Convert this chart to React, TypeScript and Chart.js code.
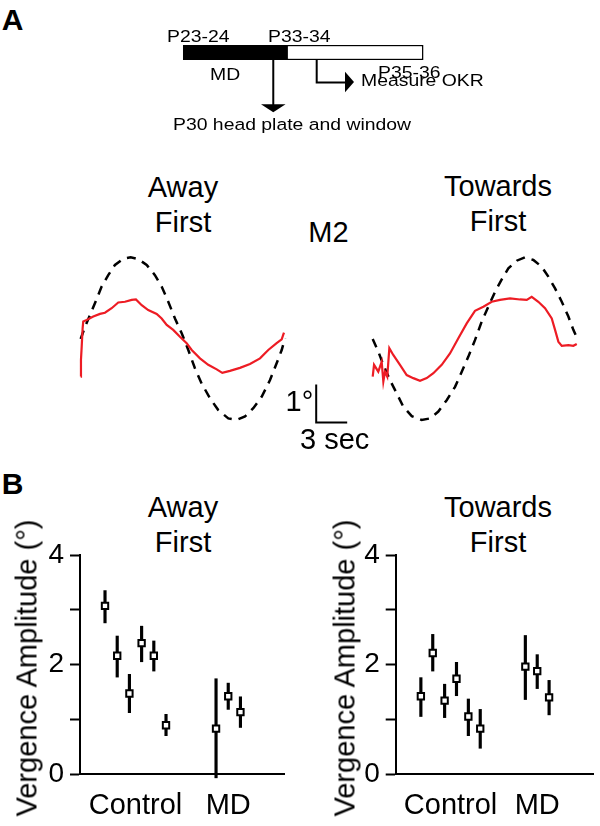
import React, { useEffect, useRef } from 'react';
import { Chart, registerables } from 'chart.js';

Chart.register(...registerables);

const FONT = "'Liberation Sans', Arial, Helvetica, sans-serif";
Chart.defaults.font.family = FONT;
Chart.defaults.color = '#000';

// ---------- Panel A: timeline (schematic units) ----------
const MD_SEGMENT: [number, number] = [0, 10];
const POST_SEGMENT: [number, number] = [10, 23.2];
const HEADPLATE_AT = 8.7;
const OKR_AT = 12.9;
const OKR_ARROW_END = 15.64;

// ---------- Panel A: traces (time in s, position in deg) ----------
const AWAY_STIM_T = [0, 0.42, 0.9, 1.38, 2.03, 2.67, 3.32, 4.12, 4.84, 5.58, 6.39, 7.19, 7.84, 8.48, 9.13, 9.78, 10.42, 11.06, 11.71, 12.52, 13.32, 14.29, 15.1, 15.91, 16.71, 17.52, 18.33, 18.97, 19.46, 19.78];
const AWAY_STIM_DEG = [0, 0.32, 0.63, 0.94, 1.38, 1.68, 1.95, 2.11, 2.15, 2.1, 1.95, 1.68, 1.38, 0.98, 0.54, 0.15, -0.29, -0.77, -1.17, -1.56, -1.87, -2.09, -2.13, -2.04, -1.82, -1.52, -1.08, -0.64, -0.29, 0.02];
const AWAY_RESP_T = [0, 0.03, 0.1, 0.19, 0.25, 0.58, 1.22, 1.87, 2.35, 3.0, 3.64, 4.29, 4.94, 5.35, 5.91, 6.54, 7.36, 7.84, 8.33, 8.96, 9.61, 10.26, 10.75, 11.55, 12.35, 13.17, 13.71, 14.45, 15.42, 16.39, 17.36, 18.16, 18.97, 19.46, 19.68];
const AWAY_RESP_DEG = [-0.99, -0.55, -0.2, 0.28, 0.46, 0.5, 0.59, 0.66, 0.69, 0.81, 0.96, 0.98, 1.03, 1.04, 0.89, 0.76, 0.66, 0.54, 0.37, 0.24, 0.06, -0.11, -0.29, -0.51, -0.68, -0.8, -0.89, -0.84, -0.76, -0.66, -0.51, -0.29, -0.11, -0.01, 0.17];
const TOW_STIM_T = [0, 0.54, 1.03, 1.67, 2.32, 2.96, 3.78, 4.74, 5.55, 6.35, 7.16, 7.97, 8.62, 9.25, 9.9, 10.55, 11.19, 11.84, 12.49, 13.13, 13.94, 14.74, 15.55, 16.36, 17.0, 17.65, 18.3, 18.94, 19.42, 19.75];
const TOW_STIM_DEG = [0, -0.33, -0.68, -1.08, -1.43, -1.78, -2.03, -2.13, -2.09, -1.91, -1.61, -1.26, -0.86, -0.47, -0.03, 0.46, 0.85, 1.24, 1.57, 1.86, 2.06, 2.15, 2.08, 1.9, 1.64, 1.33, 0.98, 0.59, 0.24, 0.04];
const TOW_RESP_T = [0, 0.13, 0.54, 0.87, 1.03, 1.19, 1.41, 1.61, 1.99, 2.64, 3.29, 3.93, 4.58, 5.23, 5.87, 6.68, 7.48, 8.29, 9.1, 9.9, 10.71, 11.52, 12.32, 13.29, 14.26, 14.91, 15.39, 16.03, 16.68, 17.33, 17.65, 17.97, 18.3, 18.94, 19.42, 19.75];
const TOW_RESP_DEG = [-0.99, -0.68, -0.86, -0.6, -1.12, -0.86, -0.99, -0.24, -0.42, -0.68, -0.95, -1.03, -1.1, -1.03, -0.9, -0.68, -0.38, 0.02, 0.41, 0.74, 0.85, 0.98, 1.03, 1.07, 1.04, 1.03, 1.11, 0.98, 0.81, 0.54, 0.24, -0.07, -0.18, -0.16, -0.18, -0.13];
const SCALE_BAR_T0 = 22.8;
const SCALE_BAR_DEG0 = -2.2;
const SCALE_BAR_DEG = 1;
const SCALE_BAR_SEC = 3;

// ---------- Panel B ----------
const GROUPS = ['Control', 'MD'];
const Y_LABELED_TICKS = [0, 2, 4];
const AWAY_X = [1, 2, 3, 4, 5, 6, 10.1, 11.1, 12.1];
const AWAY_GROUP = [0, 0, 0, 0, 0, 0, 1, 1, 1];
const AWAY_MEAN = [3.07, 2.16, 1.47, 2.39, 2.16, 0.89, 0.83, 1.42, 1.13];
const AWAY_LO = [2.76, 1.77, 1.12, 2.05, 1.88, 0.7, -0.07, 1.18, 0.85];
const AWAY_HI = [3.35, 2.52, 1.82, 2.7, 2.43, 1.09, 1.74, 1.66, 1.41];
const TOW_X = [1, 2, 3, 4, 5, 6, 9.8, 10.8, 11.8];
const TOW_GROUP = [0, 0, 0, 0, 0, 0, 1, 1, 1];
const TOW_MEAN = [1.42, 2.21, 1.34, 1.74, 1.05, 0.83, 1.96, 1.88, 1.4];
const TOW_LO = [1.05, 1.88, 1.03, 1.43, 0.7, 0.47, 1.36, 1.56, 1.08];
const TOW_HI = [1.76, 2.55, 1.64, 2.04, 1.37, 1.18, 2.53, 2.18, 1.71];

const pts = (t: number[], v: number[]) => t.map((x, i) => ({ x, y: v[i] }));

const baseOpts = {
  responsive: false,
  animation: false as const,
  devicePixelRatio: 1,
  events: [] as any[],
  plugins: { legend: { display: false }, tooltip: { enabled: false } },
};

function ChartCanvas({ left, top, width, height, make }: any) {
  const ref = useRef<HTMLCanvasElement>(null);
  useEffect(() => {
    const chart = new Chart(ref.current as HTMLCanvasElement, make());
    return () => chart.destroy();
  }, []);
  return (
    <canvas
      ref={ref}
      width={width}
      height={height}
      style={{ position: 'absolute', left, top, width, height }}
    />
  );
}

function Txt({ x, capTop, size = 29, align = 'left', bold = false, sx = 1, children }: any) {
  const top = capTop - 0.1305 * size;
  let transform = align === 'center' ? 'translateX(-50%)' : align === 'right' ? 'translateX(-100%)' : '';
  if (sx !== 1) transform += ` scaleX(${sx})`;
  return (
    <div
      style={{
        position: 'absolute',
        left: x,
        top,
        fontSize: size,
        lineHeight: `${size}px`,
        fontWeight: bold ? 700 : 400,
        whiteSpace: 'nowrap',
        transform,
        transformOrigin: 'left top',
      }}
    >
      {children}
    </div>
  );
}

const arrowPlugin = {
  id: 'timelineArrows',
  afterDatasetsDraw(chart: any) {
    const { ctx } = chart;
    const xs = chart.scales.x;
    const yb = chart.chartArea.bottom;
    ctx.save();
    ctx.strokeStyle = '#000';
    ctx.fillStyle = '#000';
    ctx.lineWidth = 2;
    const hx = xs.getPixelForValue(HEADPLATE_AT);
    ctx.beginPath();
    ctx.moveTo(hx, yb);
    ctx.lineTo(hx, yb + 45);
    ctx.stroke();
    ctx.beginPath();
    ctx.moveTo(hx - 12.3, yb + 44.3);
    ctx.lineTo(hx + 12.3, yb + 44.3);
    ctx.lineTo(hx, yb + 52.3);
    ctx.closePath();
    ctx.fill();
    const ox = xs.getPixelForValue(OKR_AT);
    const ex = xs.getPixelForValue(OKR_ARROW_END);
    ctx.beginPath();
    ctx.moveTo(ox, yb);
    ctx.lineTo(ox, yb + 22.5);
    ctx.lineTo(ex + 1, yb + 22.5);
    ctx.stroke();
    ctx.beginPath();
    ctx.moveTo(ex, yb + 11.7);
    ctx.lineTo(ex, yb + 32.3);
    ctx.lineTo(ex + 9, yb + 22);
    ctx.closePath();
    ctx.fill();
    ctx.restore();
  },
};

const makeTimeline = () => ({
  type: 'bar',
  data: {
    labels: ['timeline'],
    datasets: [
      { data: [MD_SEGMENT], backgroundColor: '#000', borderColor: '#000', borderWidth: 0, barThickness: 15, grouped: false, borderSkipped: false },
      { data: [POST_SEGMENT], backgroundColor: '#fff', borderColor: '#000', borderWidth: 1.5, barThickness: 15, grouped: false, borderSkipped: false },
    ],
  },
  options: {
    ...baseOpts,
    indexAxis: 'y',
    layout: { padding: { top: 45, bottom: 80, left: 0, right: 0 } },
    scales: {
      x: { type: 'linear', display: false, min: -17.73, max: 40.3 },
      y: { display: false },
    },
  },
  plugins: [arrowPlugin],
});

const makeTrace = (stimT: number[], stimD: number[], respT: number[], respD: number[], xmin: number, xmax: number, withBar: boolean) => () => {
  const datasets: any[] = [
    { data: pts(respT, respD), borderColor: '#ed1c24', borderWidth: 2.2, pointRadius: 0, tension: 0 },
    { data: pts(stimT, stimD), borderColor: '#000', borderWidth: 2.5, borderDash: [9, 7], pointRadius: 0, tension: 0 },
  ];
  if (withBar) {
    datasets.push({
      data: [
        { x: SCALE_BAR_T0, y: SCALE_BAR_DEG0 + SCALE_BAR_DEG },
        { x: SCALE_BAR_T0, y: SCALE_BAR_DEG0 },
        { x: SCALE_BAR_T0 + SCALE_BAR_SEC, y: SCALE_BAR_DEG0 },
      ],
      borderColor: '#000',
      borderWidth: 2,
      pointRadius: 0,
      borderJoinStyle: 'miter',
    });
  }
  return {
    type: 'line',
    data: { datasets },
    options: {
      ...baseOpts,
      layout: { padding: 0 },
      scales: {
        x: { type: 'linear', display: false, min: xmin, max: xmax },
        y: { type: 'linear', display: false, min: -2.921, max: 2.868 },
      },
    },
  };
};

const makeErrorChart = (xs: number[], groups: number[], mean: number[], lo: number[], hi: number[], xmin: number, xmax: number, axisWidth: number, padRight: number) => () => {
  const centers = GROUPS.map((_, g) => {
    const v = xs.filter((_, i) => groups[i] === g);
    return v.reduce((a, b) => a + b, 0) / v.length;
  });
  return {
    type: 'bar',
    data: {
      datasets: [
        {
          type: 'line',
          showLine: false,
          data: pts(xs, mean),
          pointStyle: 'rect',
          pointRadius: 4.5,
          pointBackgroundColor: '#fff',
          pointBorderColor: '#000',
          pointBorderWidth: 2,
          order: 0,
        },
        {
          type: 'bar',
          data: xs.map((x, i) => ({ x, y: [lo[i], hi[i]] })),
          backgroundColor: '#000',
          barThickness: 2.5,
          borderWidth: 0,
          order: 1,
          clip: false,
        },
      ],
    },
    options: {
      ...baseOpts,
      layout: { padding: { top: 25, right: padRight, left: 0, bottom: 0 } },
      scales: {
        x: {
          type: 'linear',
          min: xmin,
          max: xmax,
          offset: false,
          grid: { display: true, drawOnChartArea: false, drawTicks: false, offset: false },
          border: { display: true, color: '#000', width: 2 },
          ticks: {
            font: { size: 29 },
            color: '#000',
            padding: 15,
            autoSkip: false,
            maxRotation: 0,
            callback: (_v: any, i: number) => GROUPS[i],
          },
          afterBuildTicks: (s: any) => {
            s.ticks = centers.map((value) => ({ value }));
          },
          afterFit: (s: any) => {
            s.height = 52;
          },
        },
        y: {
          type: 'linear',
          min: 0,
          max: 4,
          ticks: {
            stepSize: 1,
            font: { size: 28 },
            color: '#000',
            padding: 6,
            callback: (v: any) => (Y_LABELED_TICKS.includes(v) ? String(v) : ''),
          },
          grid: { drawOnChartArea: false, drawTicks: true, tickLength: 10, tickColor: '#000', tickWidth: 2 },
          border: { display: true, color: '#000', width: 2 },
          afterFit: (s: any) => {
            s.width = axisWidth;
          },
        },
      },
    },
  };
};

export default function App() {
  return (
    <div
      style={{
        position: 'absolute',
        left: 0,
        top: 0,
        width: 600,
        height: 826,
        background: '#fff',
        overflow: 'hidden',
        fontFamily: FONT,
        color: '#000',
      }}
    >
      <Txt x={1.7} capTop={9.3} size={30} bold>A</Txt>
      <Txt x={1.7} capTop={473.3} size={30} bold>B</Txt>

      {/* timeline */}
      <ChartCanvas left={0} top={0} width={600} height={140} make={makeTimeline} />
      <Txt x={167.3} capTop={30} size={16.3} sx={1.19}>P23-24</Txt>
      <Txt x={268.3} capTop={30} size={16.3} sx={1.19}>P33-34</Txt>
      <Txt x={210} capTop={68.3} size={16.3} sx={1.19}>MD</Txt>
      <Txt x={378.3} capTop={65.7} size={16.3} sx={1.19}>P35-36</Txt>
      <Txt x={360.7} capTop={74.5} size={16.3} sx={1.19}>Measure OKR</Txt>
      <Txt x={173.3} capTop={118.3} size={16.3} sx={1.19}>P30 head plate and window</Txt>

      {/* trace titles */}
      <Txt x={183} capTop={176.7} align="center">Away</Txt>
      <Txt x={183} capTop={211.7} align="center">First</Txt>
      <Txt x={498} capTop={175.5} align="center">Towards</Txt>
      <Txt x={498} capTop={210.5} align="center">First</Txt>
      <Txt x={308.3} capTop={221.7}>M2</Txt>

      <ChartCanvas
        left={60}
        top={230}
        width={300}
        height={220}
        make={makeTrace(AWAY_STIM_T, AWAY_STIM_DEG, AWAY_RESP_T, AWAY_RESP_DEG, -2.0, 27.04, true)}
      />
      <ChartCanvas
        left={360}
        top={230}
        width={240}
        height={220}
        make={makeTrace(TOW_STIM_T, TOW_STIM_DEG, TOW_RESP_T, TOW_RESP_DEG, -1.229, 22.0, false)}
      />
      <Txt x={313.3} capTop={390.7} align="right">1°</Txt>
      <Txt x={300} capTop={428.3}>3 sec</Txt>

      {/* panel B */}
      <Txt x={183} capTop={496.7} align="center">Away</Txt>
      <Txt x={183} capTop={531.7} align="center">First</Txt>
      <Txt x={498} capTop={496.7} align="center">Towards</Txt>
      <Txt x={498} capTop={531.7} align="center">First</Txt>

      <ChartCanvas
        left={0}
        top={530}
        width={300}
        height={296}
        make={makeErrorChart(AWAY_X, AWAY_GROUP, AWAY_MEAN, AWAY_LO, AWAY_HI, -1.05, 15.67, 80, 16)}
      />
      <ChartCanvas
        left={300}
        top={530}
        width={300}
        height={296}
        make={makeErrorChart(TOW_X, TOW_GROUP, TOW_MEAN, TOW_LO, TOW_HI, -1.12, 15.54, 95.7, 0)}
      />

      {[26.7, 344.7].map((cx) => (
        <div
          key={cx}
          style={{
            position: 'absolute',
            left: cx,
            top: 667.5,
            fontSize: 29,
            lineHeight: '29px',
            whiteSpace: 'nowrap',
            transform: 'translate(-50%, -50%) rotate(-90deg)',
          }}
        >
          Vergence Amplitude (°)
        </div>
      ))}
    </div>
  );
}
